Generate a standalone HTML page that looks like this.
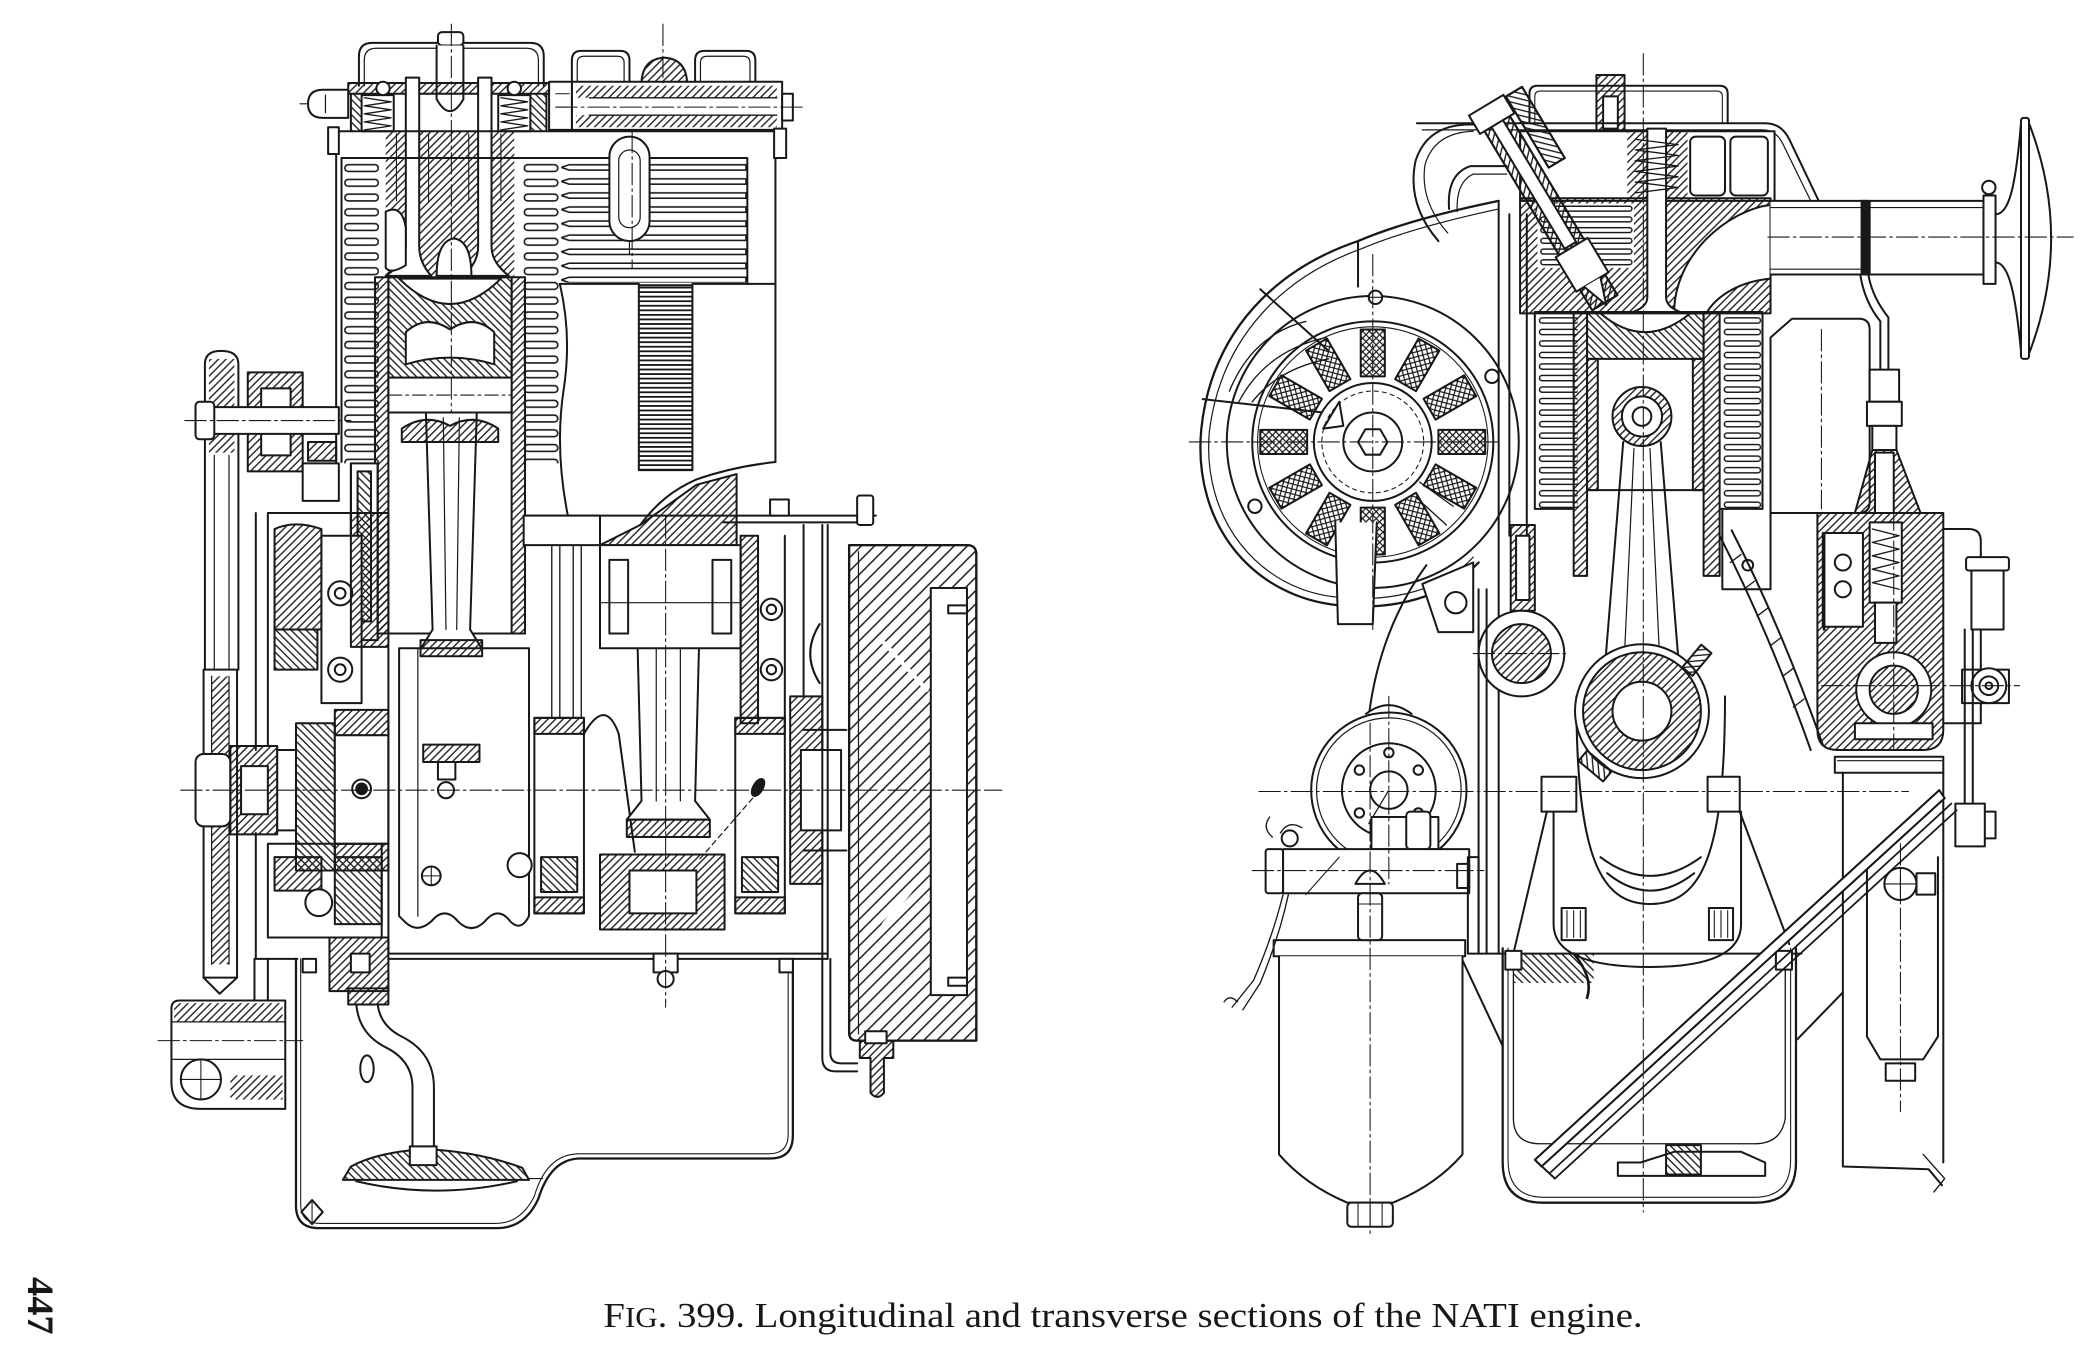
<!DOCTYPE html>
<html><head><meta charset="utf-8">
<style>
html,body{margin:0;padding:0;background:#fff;}
svg{display:block;}
</style></head>
<body>
<svg xmlns="http://www.w3.org/2000/svg" width="2100" height="1365" viewBox="0 0 1568 1019.2">
<defs>
<pattern id="h" width="4" height="4" patternUnits="userSpaceOnUse" patternTransform="rotate(45)"><line x1="1" y1="0" x2="1" y2="4" stroke="#181818" stroke-width="1"/></pattern>
<pattern id="hr" width="4" height="4" patternUnits="userSpaceOnUse" patternTransform="rotate(-45)"><line x1="1" y1="0" x2="1" y2="4" stroke="#181818" stroke-width="1"/></pattern>
<pattern id="hw" width="7" height="7" patternUnits="userSpaceOnUse" patternTransform="rotate(45)"><line x1="1" y1="0" x2="1" y2="7" stroke="#181818" stroke-width="1.1"/></pattern>
<pattern id="xh" width="3.6" height="3.6" patternUnits="userSpaceOnUse" patternTransform="rotate(45)"><path d="M1,0 V3.6 M0,1 H3.6" stroke="#181818" stroke-width="0.9"/></pattern>
<pattern id="finA" x="257" y="120" width="400" height="11" patternUnits="userSpaceOnUse"><rect x="0.5" y="3" width="25" height="5" rx="2.5" fill="none" stroke="#181818" stroke-width="1.2"/></pattern>
<pattern id="finB" x="391" y="120" width="400" height="11" patternUnits="userSpaceOnUse"><rect x="0.5" y="3" width="25" height="5" rx="2.5" fill="none" stroke="#181818" stroke-width="1.2"/></pattern>
<pattern id="finC" x="419" y="120" width="400" height="10.5" patternUnits="userSpaceOnUse"><path d="M0,5 L6,3 H138 V7 H6 Z" fill="none" stroke="#181818" stroke-width="1.2"/></pattern>
<pattern id="finD" x="477" y="213" width="400" height="3.4" patternUnits="userSpaceOnUse"><line x1="0" y1="1.7" x2="40" y2="1.7" stroke="#181818" stroke-width="1.3"/></pattern>
<pattern id="finE" x="1149" y="235" width="400" height="8.6" patternUnits="userSpaceOnUse"><rect x="0.5" y="2.3" width="29" height="4" rx="2" fill="none" stroke="#181818" stroke-width="1.1"/></pattern>
<pattern id="finF" x="1287" y="235" width="400" height="8.6" patternUnits="userSpaceOnUse"><rect x="0.5" y="2.3" width="27" height="4" rx="2" fill="none" stroke="#181818" stroke-width="1.1"/></pattern>
<pattern id="finG" x="1150" y="152" width="400" height="8" patternUnits="userSpaceOnUse"><rect x="0.5" y="2" width="68" height="3.6" rx="1.8" fill="none" stroke="#181818" stroke-width="1.1"/></pattern>
</defs>

<rect x="0" y="0" width="1568" height="1019.2" fill="#fff"/>

<!-- ================= LEFT ENGINE ================= -->
<g fill="none" stroke="#181818" stroke-width="1.5" stroke-linejoin="round" stroke-linecap="round">

<rect x="288" y="98" width="96" height="110" fill="url(#h)" stroke="none"/>
<rect x="262" y="70" width="26" height="28" fill="url(#hr)" stroke="none"/>
<rect x="384" y="70" width="24" height="28" fill="url(#hr)" stroke="none"/>

<path d="M268,64 V42 Q268,32 278,32 H396 Q406,32 406,42 V64"/>
<path d="M272,64 V45 Q272,36 281,36 H393 Q402,36 402,45 V64" stroke-width="0.9"/>
<rect x="327" y="24" width="19" height="10" rx="3" fill="#fff"/>
<path d="M326,34 V74 Q336,92 346,74 V34" fill="#fff"/>
<rect x="260" y="62" width="150" height="8" fill="url(#h)"/>
<path d="M262,70 V98 M408,70 V98"/>
<path d="M260,67 H241 Q230,67 230,77.5 Q230,88 241,88 H260 Z" fill="#fff"/>
<path d="M243,71 V84 M224,77.5 H230" stroke-width="0.9"/>
<rect x="270" y="71" width="24" height="27" fill="#fff"/>
<polyline points="272,73 292,76 272,79 292,82 272,85 292,88 272,91 292,94 272,97" stroke-width="1"/>
<rect x="372" y="71" width="24" height="27" fill="#fff"/>
<polyline points="374,73 394,76 374,79 394,82 374,85 394,88 374,91 394,94 374,97" stroke-width="1"/>
<circle cx="286" cy="66" r="5" fill="#fff"/>
<circle cx="384" cy="66" r="5" fill="#fff"/>

<path d="M303,58 V184 Q303,196 288,206 H322 Q313,196 313,184 V58 Z" fill="#fff"/>
<path d="M357,58 V184 Q357,196 346,206 H380 Q367,196 367,184 V58 Z" fill="#fff"/>
<path d="M296,100 V150 M320,100 V150 M350,100 V150 M374,100 V150" stroke-width="0.8"/>
<path d="M288,158 Q300,152 303,170 V198 Q292,205 288,200 Z" fill="#fff"/>
<path d="M326,206 Q326,180 339,178 Q352,180 352,206 Z" fill="#fff"/>

<path d="M427,61 V45 Q427,38 434,38 H463 Q470,38 470,45 V61"/>
<path d="M431,61 V47 Q431,42 436,42 H461 Q466,42 466,47 V61" stroke-width="0.9"/>
<path d="M479,61 Q480,44 496,43 Q512,44 513,61" fill="url(#h)"/>
<path d="M519,61 V45 Q519,38 526,38 H557 Q564,38 564,45 V61"/>
<path d="M523,61 V47 Q523,42 528,42 H555 Q560,42 560,47 V61" stroke-width="0.9"/>
<rect x="427" y="61" width="157" height="36"/>
<rect x="430" y="64" width="150" height="9" fill="url(#h)" stroke="none"/>
<rect x="430" y="86" width="150" height="9" fill="url(#h)" stroke="none"/>
<path d="M440,73 H580 M440,86 H580" stroke-width="1"/>
<rect x="584" y="70" width="8" height="20" fill="#fff"/>
<rect x="410" y="61" width="17" height="36" fill="#fff"/>
<path d="M415,70 H425 M415,80 H425" stroke-width="0.8"/>

<path d="M247,98 H586"/>
<path d="M251,98 V372 M255,118 V345 M579,98 V345 M583,98 V118"/>
<rect x="578" y="96" width="9" height="22" fill="#fff"/>
<rect x="245" y="95" width="8" height="20" fill="#fff"/>
<rect x="256" y="119" width="27" height="227" fill="url(#finA)" stroke="none"/>
<rect x="390" y="119" width="28" height="227" fill="url(#finB)" stroke="none"/>
<rect x="418" y="119" width="140" height="92" fill="url(#finC)" stroke="none"/>
<path d="M255,118 H558 M558,118 V212"/>
<rect x="455" y="102" width="30" height="78" rx="15" fill="#fff"/>
<rect x="462" y="112" width="16" height="58" rx="8" stroke-width="0.9"/>
<path d="M470,180 V190" stroke-width="0.9"/>
<rect x="477" y="213" width="40" height="138" fill="url(#finD)"/>
<path d="M418,212 H477 M517,212 H579"/>
<path d="M418,212 Q427,250 421,290 Q414,335 424,385"/>
<path d="M579,345 C560,347 540,351 520,358 C502,366 490,376 478,392"/>
<path d="M478,392 L520,362 L550,354 L550,407 L448,407 Z" fill="url(#h)"/>

<rect x="280" y="207" width="10" height="266" fill="url(#h)"/>
<rect x="382" y="207" width="10" height="266" fill="url(#h)"/>
<rect x="290" y="207" width="92" height="75" fill="url(#hr)"/>
<path d="M298,208 Q336,246 374,208 Z" fill="#fff"/>
<path d="M303,248 Q318,234 336,246 Q354,234 369,248 V272 Q336,262 303,272 Z" fill="#fff"/>
<rect x="290" y="282" width="92" height="26" fill="#fff"/>
<path d="M280,473 H392"/>
<path d="M318,308 L323,470 L312,488 H362 L351,470 L356,308 Z" fill="#fff"/>
<path d="M331,312 L333,470 M343,312 L341,470" stroke-width="0.9"/>
<path d="M300,320 Q318,308 336,318 Q354,308 372,320 V330 H300 Z" fill="url(#h)"/>

<rect x="262" y="346" width="20" height="132" fill="#fff"/>
<rect x="267" y="352" width="10" height="112" fill="url(#hr)"/>
<path d="M262,346 V478 M282,346 V478"/>

<path d="M153,500 V272 Q153,262 165,262 Q178,262 178,272 V500" fill="#fff"/>
<rect x="156" y="268" width="19" height="70" fill="url(#h)" stroke="none"/>
<path d="M160,340 V500 M171,340 V500" stroke-width="0.9"/>
<rect x="185" y="278" width="41" height="74" fill="url(#h)"/>
<rect x="195" y="290" width="22" height="50" fill="#fff"/>
<rect x="146" y="304" width="107" height="20" fill="#fff"/>
<rect x="146" y="300" width="14" height="28" rx="3" fill="#fff"/>
<rect x="226" y="346" width="27" height="28" fill="#fff"/>
<rect x="230" y="330" width="21" height="14" fill="url(#h)"/>

<rect x="152" y="500" width="25" height="230" fill="#fff"/>
<rect x="158" y="505" width="13" height="215" fill="url(#h)" stroke="none"/>
<path d="M158,505 V720 M171,505 V720" stroke-width="0.9"/>
<path d="M152,730 L164,742 L177,730"/>

<path d="M191,383 V560 M191,622 V716 H222"/>
<path d="M200,383 H262 M200,383 V556"/>
<path d="M205,395 Q220,388 240,395 V470 H205 Z" fill="url(#h)"/>
<rect x="240" y="400" width="30" height="125" fill="#fff"/>
<circle cx="254" cy="443" r="9" fill="#fff"/><circle cx="254" cy="443" r="4"/>
<circle cx="254" cy="500" r="9" fill="#fff"/><circle cx="254" cy="500" r="4"/>
<rect x="205" y="470" width="32" height="30" fill="url(#hr)"/>
<rect x="262" y="383" width="28" height="100" fill="url(#h)"/>
<rect x="200" y="630" width="85" height="70" fill="#fff"/>
<rect x="205" y="640" width="35" height="25" fill="url(#h)"/>
<rect x="250" y="640" width="35" height="50" fill="url(#hr)"/>
<circle cx="238" cy="674" r="10" fill="#fff"/>
<rect x="246" y="700" width="44" height="40" fill="url(#h)"/>
<rect x="262" y="712" width="14" height="14" fill="#fff"/>
<rect x="146" y="563" width="26" height="54" rx="6" fill="#fff"/>
<rect x="172" y="557" width="35" height="66" fill="url(#h)"/>
<rect x="180" y="572" width="20" height="36" fill="#fff"/>
<rect x="207" y="560" width="14" height="60" fill="#fff"/>
<rect x="221" y="540" width="29" height="110" fill="url(#hr)"/>

<rect x="250" y="530" width="40" height="19" fill="url(#h)"/>
<rect x="250" y="549" width="40" height="81" fill="#fff"/>
<rect x="250" y="630" width="40" height="20" fill="url(#h)"/>
<circle cx="270" cy="589" r="7" fill="#fff"/><circle cx="270" cy="589" r="4" fill="#181818"/>
<path d="M290,484 V712"/>
<path d="M298,484 H395 V684 Q389,696 381,688 Q372,676 362,688 Q352,698 342,688 Q332,676 322,688 Q312,697 303,689 L298,684 Z" fill="#fff"/>
<path d="M312,484 V684" stroke-width="0.9"/>
<rect x="314" y="478" width="46" height="12" fill="url(#h)"/>
<rect x="316" y="556" width="42" height="13" fill="url(#h)"/>
<rect x="327" y="569" width="13" height="13" fill="#fff"/>
<circle cx="333" cy="590" r="6" fill="#fff"/>
<circle cx="322" cy="654" r="7"/><path d="M315,654 H329 M322,647 V661" stroke-width="0.8"/>
<circle cx="388" cy="646" r="9" fill="#fff"/>
<rect x="399" y="536" width="37" height="146" fill="#fff"/>
<rect x="399" y="536" width="37" height="12" fill="url(#h)"/>
<rect x="399" y="670" width="37" height="12" fill="url(#h)"/>
<rect x="404" y="640" width="27" height="26" fill="url(#hr)"/>
<path d="M436,548 Q452,520 462,548 L474,636"/>
<path d="M476,480 L479,598 L468,612 H530 L519,598 L522,480 Z" fill="#fff"/>
<path d="M490,484 V598 M508,484 V598" stroke-width="0.9"/>
<rect x="468" y="612" width="62" height="13" fill="url(#h)"/>
<rect x="448" y="638" width="93" height="56" fill="url(#h)"/>
<rect x="470" y="650" width="50" height="32" fill="#fff"/>
<rect x="549" y="536" width="37" height="146" fill="#fff"/>
<rect x="549" y="536" width="37" height="12" fill="url(#h)"/>
<rect x="549" y="670" width="37" height="12" fill="url(#h)"/>
<rect x="554" y="640" width="27" height="26" fill="url(#hr)"/>
<ellipse cx="566" cy="588" rx="3.5" ry="7" transform="rotate(30 566 588)" fill="#181818"/>
<path d="M562,596 L522,642" stroke-dasharray="4 3" stroke-width="0.9"/>
<rect x="590" y="520" width="24" height="140" fill="url(#h)"/>
<rect x="598" y="560" width="30" height="60" fill="#fff"/>
<path d="M600,545 H632 M600,635 H632"/>

<path d="M391,385 H654 M540,390 H640"/>
<rect x="640" y="370" width="12" height="22" rx="2" fill="#fff"/>
<rect x="575" y="373" width="14" height="12" fill="#fff"/>
<rect x="391" y="385" width="57" height="22" fill="#fff"/>
<rect x="448" y="407" width="105" height="77" fill="#fff"/>
<rect x="455" y="418" width="14" height="55"/>
<rect x="532" y="418" width="14" height="55"/>
<path d="M448,450 H553" stroke-width="0.8"/>
<path d="M412,407 V536 M418,407 V536 M428,407 V536 M434,407 V536" stroke-width="1"/>
<rect x="553" y="400" width="13" height="140" fill="url(#h)"/>
<circle cx="576" cy="455" r="8" fill="#fff"/><circle cx="576" cy="455" r="3.5"/>
<circle cx="576" cy="500" r="8" fill="#fff"/><circle cx="576" cy="500" r="3.5"/>
<path d="M586,400 V540 M600,392 V520"/>
<path d="M614,392 V716 M618,392 V716"/>
<path d="M612,466 Q598,488 612,510" stroke-width="1.6"/>

<path d="M634,407 H722 Q729,407 729,414 V777 H640 Q634,777 634,771 Z" fill="url(#hw)"/>
<path d="M634,407 H722 Q729,407 729,414 V777 H640 Q634,777 634,771 Z" stroke-width="1.7"/>
<rect x="695" y="439" width="27" height="304" fill="#fff"/>
<path d="M641,412 V772" stroke-width="0.9"/>
<path d="M660,480 L692,515 M660,690 L692,650" stroke="#fff" stroke-width="3"/>
<rect x="708" y="452" width="14" height="6" fill="#fff"/>
<rect x="708" y="730" width="14" height="6" fill="#fff"/>

<path d="M290,712 H618 M290,716 H618"/>
<path d="M221,716 V900 Q221,917 238,917 H371 Q392,917 402,895 Q411,866 432,865 H575 Q592,865 592,848 V716" stroke-width="1.7"/>
<path d="M224.5,716 V899 Q224.5,913.5 239,913.5 H370 Q389,913.5 399,893 Q408,862.5 431,861.5 H574 Q588.5,861.5 588.5,847 V716" stroke-width="0.8"/>
<path d="M225,905 L233,896 L241,905 L233,914 Z" fill="#fff"/>
<path d="M233,896 V914" stroke-width="0.8"/>
<rect x="226" y="716" width="10" height="10" fill="#fff"/>
<rect x="582" y="716" width="10" height="10" fill="#fff"/>
<rect x="488" y="712" width="18" height="14" fill="#fff"/>
<circle cx="497" cy="731" r="6" fill="#fff"/>

<rect x="260" y="738" width="30" height="12" fill="url(#h)"/>
<path d="M266,750 Q268,772 288,782 Q308,792 308,812 V862"/>
<path d="M282,750 Q284,766 300,774 Q324,786 324,812 V862"/>
<ellipse cx="274" cy="798" rx="5" ry="10" fill="#fff"/>
<path d="M256,881 H395 L390,872 Q358,860 318,858 Q282,860 262,871 Z" fill="url(#hr)"/>
<path d="M266,882 Q325,896 386,882"/>
<rect x="306" y="856" width="20" height="14" fill="#fff"/>
<path d="M395,880 H405" stroke-width="0.9"/>

<path d="M190,716 V748 M200,716 V748"/>
<path d="M134,747 H213 V828 H150 Q128,828 128,808 V753 Q128,747 134,747 Z" fill="#fff"/>
<rect x="130" y="749" width="81" height="14" fill="url(#h)" stroke="none"/>
<rect x="172" y="803" width="39" height="18" fill="url(#h)" stroke="none"/>
<path d="M128,763 H213 M128,791 H213" stroke-width="0.9"/>
<circle cx="150" cy="806" r="15" fill="#fff"/>
<path d="M135,806 H165 M150,791 V821" stroke-width="0.8"/>

<path d="M614,716 V790 Q614,800 624,800 H640 M620,716 V786 Q620,794 628,794 H640"/>
<path d="M642,777 H667 V790 H660 V816 Q655,822 650,816 V790 H642 Z" fill="url(#h)"/>
<rect x="646" y="770" width="16" height="9" fill="#fff"/>

<path d="M337,18 V308 M495,18 V62 M497,386 V752 M135,590 H748 M415,80 H600 M138,314 H262 M118,777 H226 M472,98 V200" stroke-width="0.8" stroke-dasharray="16 3 2 3"/>
<path d="M290,295 H382" stroke-width="0.8" stroke-dasharray="10 3 2 3"/>
</g>

<!-- ================= RIGHT ENGINE ================= -->
<g fill="none" stroke="#181818" stroke-width="1.5" stroke-linejoin="round" stroke-linecap="round">

<path d="M1119,150 C1080,158 1042,168 1014,180 C955,200 905,245 897,320 C890,392 936,446 1000,452 C1040,456 1080,446 1104,420" fill="#fff" stroke-width="1.7"/>
<path d="M1119,156 C1082,164 1044,174 1016,186 C960,206 912,250 903,322 C897,388 940,441 1000,446 C1040,450 1078,440 1100,416" stroke-width="0.9"/>
<path d="M1014,180 V214"/>
<circle cx="1025" cy="330" r="109" fill="#fff"/>
<path d="M898,298 L988,308 M941,216 L992,262"/>
<path d="M925,300 Q945,262 990,252 M935,300 Q955,275 992,268 M918,292 Q935,250 975,240" stroke-width="1"/>
<circle cx="1025" cy="330" r="90"/>
<circle cx="1025" cy="330" r="86" stroke-width="0.8"/>
<g transform="translate(1025,330)">
<rect x="-9" y="-84" width="18" height="35" fill="url(#xh)" transform="rotate(0)"/>
<rect x="-9" y="-84" width="18" height="35" fill="url(#xh)" transform="rotate(30)"/>
<rect x="-9" y="-84" width="18" height="35" fill="url(#xh)" transform="rotate(60)"/>
<rect x="-9" y="-84" width="18" height="35" fill="url(#xh)" transform="rotate(90)"/>
<rect x="-9" y="-84" width="18" height="35" fill="url(#xh)" transform="rotate(120)"/>
<rect x="-9" y="-84" width="18" height="35" fill="url(#xh)" transform="rotate(150)"/>
<rect x="-9" y="-84" width="18" height="35" fill="url(#xh)" transform="rotate(180)"/>
<rect x="-9" y="-84" width="18" height="35" fill="url(#xh)" transform="rotate(210)"/>
<rect x="-9" y="-84" width="18" height="35" fill="url(#xh)" transform="rotate(240)"/>
<rect x="-9" y="-84" width="18" height="35" fill="url(#xh)" transform="rotate(270)"/>
<rect x="-9" y="-84" width="18" height="35" fill="url(#xh)" transform="rotate(300)"/>
<rect x="-9" y="-84" width="18" height="35" fill="url(#xh)" transform="rotate(330)"/>
</g>
<circle cx="1025" cy="330" r="44" fill="#fff"/>
<circle cx="1025" cy="330" r="38" stroke-dasharray="3 3" stroke-width="0.8"/>
<circle cx="1025" cy="330" r="22" fill="#fff"/>
<polygon points="1036,330 1030.5,339.5 1019.5,339.5 1014,330 1019.5,320.5 1030.5,320.5" fill="#fff"/>
<path d="M1000,300 L988,320 L1003,318 Z" fill="#fff"/>
<path d="M1058,372 L1080,392 M1060,360 L1085,378" stroke-width="1"/>
<path d="M997,390 L999,466 H1025 L1028,390" fill="#fff"/>
<circle cx="1027" cy="222" r="5" fill="#fff"/><path d="M1022,222 H1032" stroke-width="0.8"/>
<circle cx="1114" cy="281" r="5" fill="#fff"/>
<circle cx="937" cy="378" r="5" fill="#fff"/>

<path d="M1142,92 V70 Q1142,64 1148,64 H1284 Q1290,64 1290,70 V92"/>
<path d="M1146,92 V72 Q1146,68 1150,68 H1282 Q1286,68 1286,72 V92" stroke-width="0.8"/>
<rect x="1192" y="56" width="21" height="58" fill="url(#h)"/>
<rect x="1197" y="72" width="11" height="24" fill="#fff"/>
<path d="M1058,92 H1318 Q1330,92 1336,104 L1358,150"/>
<path d="M1062,97 H1316 Q1326,97 1331,107 L1352,150" stroke-width="0.9"/>
<path d="M1074,180 Q1050,152 1057,120 Q1066,92 1100,93"/>
<path d="M1081,174 Q1060,150 1064,123 Q1071,99 1100,98" stroke-width="0.9"/>
<path d="M1082,156 Q1080,130 1098,124 H1125"/>
<path d="M1088,158 Q1087,136 1100,130 H1125" stroke-width="0.9"/>

<rect x="1135" y="98" width="190" height="52" fill="#fff"/>
<rect x="1215" y="98" width="45" height="52" fill="url(#h)" stroke="none"/>
<rect x="1262" y="102" width="26" height="44" rx="4" fill="#fff"/>
<rect x="1292" y="102" width="28" height="44" rx="4" fill="#fff"/>
<rect x="1135" y="148" width="187" height="86" fill="url(#h)"/>
<rect x="1148" y="152" width="72" height="48" fill="#fff" stroke="none"/>
<rect x="1148" y="152" width="72" height="48" fill="url(#finG)" stroke="none"/>
<path d="M1250,234 C1250,190 1290,157 1322,153 V208 C1300,210 1282,220 1274,234 Z" fill="#fff"/>
<path d="M1230,96 V222 Q1230,230 1216,234 H1258 Q1244,230 1244,222 V96 Z" fill="#fff"/>
<polyline points="1221,104 1253,108 1221,112 1253,116 1221,120 1253,124 1221,128 1253,132 1221,136 1253,140 1221,144" stroke-width="1"/>

<g transform="translate(1155,154) rotate(-31)">
<rect x="-11" y="-84" width="22" height="168" fill="url(#h)"/>
<rect x="-11" y="-84" width="22" height="168"/>
<rect x="-5" y="-76" width="10" height="110" fill="#fff"/>
<rect x="-15" y="-88" width="30" height="16" fill="#fff"/>
<rect x="-14" y="36" width="28" height="30" fill="#fff"/>
<path d="M-7,66 L0,86 L7,66" fill="#fff"/>
<rect x="16" y="-86" width="14" height="62" fill="url(#hr)"/>
<rect x="16" y="-86" width="14" height="62"/>
</g>

<path d="M1119,150 V712 M1127,160 V400 M1140,160 V400"/>
<rect x="1148" y="234" width="30" height="146" fill="url(#finE)" stroke="none"/>
<rect x="1175" y="233" width="10" height="197" fill="url(#h)"/>
<rect x="1272" y="233" width="12" height="197" fill="url(#h)"/>
<rect x="1286" y="234" width="30" height="146" fill="url(#finF)" stroke="none"/>
<path d="M1146,233 H1316 M1146,233 V380 M1146,380 H1175 M1284,380 H1316 M1316,233 V380"/>
<rect x="1185" y="233" width="87" height="35" fill="url(#hr)"/>
<path d="M1195,234 Q1228,262 1262,234 Z" fill="#fff"/>
<rect x="1185" y="268" width="8" height="98" fill="url(#h)"/>
<rect x="1264" y="268" width="8" height="98" fill="url(#h)"/>
<path d="M1185,366 H1272"/>
<path d="M1322,252 L1338,238 H1388 Q1396,238 1396,246 V375 Q1396,383 1388,383 H1322 Z" fill="#fff"/>
<path d="M1322,380 V440 M1286,380 V440 H1322"/>
<circle cx="1305" cy="422" r="4"/>

<path d="M1212,330 L1199,490 M1240,330 L1253,490"/>
<path d="M1220,335 L1213,488 M1232,335 L1239,488" stroke-width="0.9"/>
<circle cx="1226" cy="311" r="22" fill="url(#h)"/>
<circle cx="1226" cy="311" r="15" fill="#fff"/>
<circle cx="1226" cy="311" r="7" fill="#fff"/>
<path d="M1177,520 C1177,640 1195,675 1232,675 C1270,675 1288,640 1288,520"/>
<circle cx="1226" cy="531" r="50" fill="#fff"/>
<circle cx="1226" cy="531" r="44" fill="url(#h)"/>
<circle cx="1226" cy="531" r="22" fill="#fff"/>
<rect x="1262" y="482" width="10" height="22" transform="rotate(40 1267 493)" fill="url(#h)"/>
<rect x="1186" y="560" width="10" height="24" transform="rotate(-50 1191 572)" fill="url(#h)"/>
<path d="M1195,640 Q1232,668 1270,640 M1200,652 Q1232,678 1265,652"/>
<path d="M1160,606 V690 Q1160,722 1232,722 Q1300,722 1300,690 V606"/>
<rect x="1151" y="580" width="26" height="26" fill="#fff"/>
<rect x="1275" y="580" width="24" height="26" fill="#fff"/>
<path d="M1155,606 L1130,712 M1299,606 L1336,705"/>
<rect x="1166" y="678" width="18" height="24" fill="#fff"/>
<path d="M1170,680 V700 M1175,680 V700 M1180,680 V700" stroke-width="0.8"/>
<rect x="1276" y="678" width="18" height="24" fill="#fff"/>
<path d="M1280,680 V700 M1285,680 V700 M1290,680 V700" stroke-width="0.8"/>

<rect x="1128" y="392" width="18" height="64" fill="url(#h)"/>
<rect x="1132" y="400" width="10" height="48" fill="#fff"/>
<circle cx="1136" cy="488" r="32" fill="#fff"/>
<circle cx="1136" cy="488" r="22" fill="url(#h)"/>
<path d="M1104,440 V712 M1110,440 V712"/>
<path d="M1065,422 Q1030,470 1022,535"/>
<path d="M1062,436 L1100,420 L1100,472 L1074,472 Z" fill="#fff"/>
<circle cx="1087" cy="450" r="8"/>

<path d="M1284,400 Q1320,470 1352,560 M1293,396 Q1329,466 1361,556"/>
<path d="M1292,420 L1300,414 M1302,440 L1310,434 M1312,460 L1320,454 M1322,482 L1330,476 M1331,505 L1339,499 M1339,528 L1347,522" stroke-width="1"/>

<path d="M1322,150 H1481 V205 H1322" fill="#fff"/>
<path d="M1322,155 H1481 M1322,201 H1390" stroke-width="0.8"/>
<rect x="1390" y="150" width="6" height="55" fill="#181818"/>
<rect x="1481" y="146" width="9" height="66" fill="#fff"/>
<circle cx="1485" cy="140" r="5" fill="#fff"/>
<path d="M1490,160 C1500,160 1505,140 1509,92 M1490,196 C1500,196 1505,220 1509,262"/>
<rect x="1509" y="88" width="6" height="180" rx="2" fill="#fff"/>
<path d="M1515,92 Q1548,178 1515,264"/>

<path d="M1389,205 Q1392,225 1404,240 V276 M1395,205 Q1398,222 1410,237 V276"/>
<rect x="1396" y="276" width="22" height="24" fill="#fff"/>
<path d="M1394,300 H1420 V318 H1394 Z" fill="#fff"/>
<rect x="1398" y="318" width="18" height="18" fill="#fff"/>
<path d="M1385,383 L1398,336 H1416 L1434,383" fill="url(#h)"/>
<rect x="1400" y="338" width="14" height="45" fill="#fff"/>
<path d="M1357,383 H1451 V545 Q1451,560 1436,560 H1372 Q1357,560 1357,545 Z" fill="url(#h)"/>
<rect x="1396" y="390" width="24" height="60" fill="#fff"/>
<polyline points="1398,395 1418,400 1398,405 1418,410 1398,415 1418,420 1398,425 1418,430 1398,435 1418,440" stroke-width="1"/>
<rect x="1361" y="398" width="30" height="70" fill="#fff"/>
<circle cx="1376" cy="420" r="6"/><circle cx="1376" cy="440" r="6"/>
<path d="M1362,398 V470" stroke-width="2"/>
<rect x="1400" y="450" width="16" height="30" fill="#fff"/>
<circle cx="1414" cy="515" r="28" fill="#fff"/>
<circle cx="1414" cy="515" r="18" fill="url(#h)"/>
<rect x="1385" y="540" width="58" height="12" fill="#fff"/>
<path d="M1451,395 H1470 Q1479,395 1479,404 V540 H1451"/>
<rect x="1468" y="416" width="32" height="10" rx="2" fill="#fff"/>
<rect x="1472" y="426" width="24" height="44" fill="#fff"/>
<rect x="1465" y="500" width="35" height="25" fill="#fff"/>
<circle cx="1485" cy="512" r="13" fill="#fff"/><circle cx="1485" cy="512" r="7"/><circle cx="1485" cy="512" r="2.5"/>
<path d="M1467,470 V600 M1473,470 V600"/>
<rect x="1460" y="600" width="22" height="32" fill="#fff"/>
<path d="M1482,606 H1490 V626 H1482"/>

<rect x="1370" y="565" width="81" height="12" fill="#fff"/>
<path d="M1372,568 H1450" stroke-width="0.8"/>
<path d="M1376,577 V871 Q1410,872 1440,873 L1450,885 M1451,577 V868"/>
<path d="M1394,640 V774 L1404,791 H1436 L1447,774 V640"/>
<rect x="1408" y="794" width="22" height="13" fill="#fff"/>
<circle cx="1419" cy="660" r="12" fill="#fff"/><path d="M1407,660 H1431 M1419,648 V672" stroke-width="0.8"/>
<rect x="1431" y="652" width="14" height="16" fill="#fff"/>
<path d="M1436,862 L1452,880 L1444,890" stroke-width="1"/>

<path d="M1104,712 H1345"/>
<path d="M1122,708 V868 Q1122,898 1152,898 H1311 Q1341,898 1341,868 V708" stroke-width="1.7"/>
<path d="M1126,708 V866 Q1126,894 1153,894 H1310 Q1337,894 1337,866 V708" stroke-width="0.8"/>
<path d="M1130,712 V835 Q1130,854 1150,854 H1310 Q1330,854 1333,835 V712" stroke-width="1"/>
<path d="M1208,878 H1318 V868 L1300,860 H1250 L1225,868 H1208 Z" fill="#fff"/>
<rect x="1244" y="855" width="26" height="22" fill="url(#hr)"/>
<path d="M1092,717 L1122,781 M1376,741 L1342,776"/>
<rect x="1130" y="712" width="60" height="22" fill="url(#hr)" stroke="none"/>
<path d="M1175,712 Q1190,730 1185,745" stroke-width="2"/>
<rect x="1124" y="710" width="12" height="14" fill="#fff"/>
<rect x="1326" y="710" width="12" height="14" fill="#fff"/>

<path d="M1448,590 L1146,866 L1151,871 L1452,596 Z" fill="#fff"/>
<path d="M1448,590 L1146,866 M1452,596 L1151,871 M1457,600 L1157,876 M1461,605 L1161,880" stroke-width="1.3"/>
<path d="M1146,866 L1161,880"/>

<path d="M1020,533 Q1037,520 1054,533" fill="#fff"/>
<circle cx="1037" cy="590" r="58" fill="#fff"/>
<circle cx="1037" cy="590" r="54" stroke-width="0.9"/>
<circle cx="1037" cy="590" r="35"/>
<circle cx="1037" cy="590" r="14"/>
<circle cx="1037" cy="562" r="3.5"/><circle cx="1015" cy="575" r="3.5"/><circle cx="1059" cy="575" r="3.5"/><circle cx="1015" cy="607" r="3.5"/><circle cx="1059" cy="607" r="3.5"/>
<path d="M1037,590 L1022,615" stroke-width="0.9"/>
<rect x="1024" y="610" width="50" height="24" fill="#fff"/>
<rect x="1050" y="606" width="18" height="28" rx="3" fill="#fff"/>
<path d="M948,610 Q942,618 950,625 M956,622 Q962,612 972,618" stroke-width="1"/>
<circle cx="963" cy="626" r="6"/>
<rect x="958" y="634" width="139" height="33" fill="#fff"/>
<rect x="945" y="634" width="13" height="33" rx="2" fill="#fff"/>
<rect x="1088" y="645" width="9" height="18" fill="#fff"/>
<rect x="1096" y="640" width="8" height="72"/>
<rect x="951" y="702" width="143" height="12" fill="#fff"/>
<path d="M955,714 V862 Q975,885 1006,898 H1040 Q1072,885 1092,862 V714" fill="#fff"/>
<rect x="1006" y="898" width="34" height="18" rx="3" fill="#fff"/>
<path d="M1014,898 V916 M1023,898 V916 M1032,898 V916" stroke-width="0.8"/>
<rect x="1014" y="667" width="18" height="35" rx="3" fill="#fff"/>
<path d="M1012,660 Q1023,640 1034,660 Z" fill="#fff"/>
<path d="M1015,675 H1031" stroke-width="0.8"/>
<path d="M958,668 Q950,700 936,732 L920,752 M962,668 Q955,700 941,734 L928,754" stroke-width="1"/>
<path d="M914,748 Q918,742 924,748" stroke-width="1"/>
<path d="M975,668 L1000,640" stroke-width="0.8"/>

<path d="M1227,40 V905 M940,591 H1425 M1320,177 H1548 M888,330 H1118 M1025,190 V472 M1023,540 V922 M935,650 H1108 M1419,630 V830 M1360,246 V380 M1360,512 H1508 M1100,488 H1172 M1414,380 V560 M1037,520 V660" stroke-width="0.8" stroke-dasharray="16 3 2 3"/>
</g>

<text x="450.5" y="990.8" font-family="'Liberation Serif', serif" font-size="26.3" fill="#181818" textLength="776" lengthAdjust="spacingAndGlyphs">F<tspan font-size="21">IG</tspan>. 399. Longitudinal and transverse sections of the NATI engine.</text>
<text transform="translate(21,953.5) rotate(90)" font-family="'Liberation Serif', serif" font-size="28" font-weight="bold" fill="#181818" textLength="43" lengthAdjust="spacingAndGlyphs">447</text>
</svg>
</body></html>
